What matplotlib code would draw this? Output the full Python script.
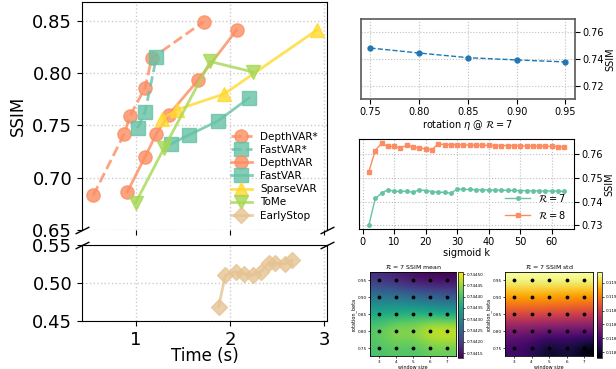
import numpy as np
import matplotlib
matplotlib.use("Agg")
import matplotlib.pyplot as plt

# ---- main panel: SSIM vs time ----
depth_star_t = [0.55, 0.88, 0.94, 1.10, 1.17, 1.72]
depth_star_s = [0.683, 0.742, 0.759, 0.786, 0.814, 0.849]
fast_star_t = [1.02, 1.10, 1.22]
fast_star_s = [0.747, 0.763, 0.815]
depth_t = [0.91, 1.10, 1.22, 1.35, 1.66, 2.07]
depth_s = [0.686, 0.720, 0.742, 0.760, 0.793, 0.841]
fast_t = [1.37, 1.57, 1.87, 2.20]
fast_s = [0.732, 0.741, 0.754, 0.776]
sparse_t = [1.28, 1.44, 1.94, 2.92]
sparse_s = [0.756, 0.765, 0.780, 0.841]
tome_t = [1.00, 1.30, 1.79, 2.24]
tome_s = [0.676, 0.728, 0.811, 0.801]
early_t = [1.88, 1.95, 2.06, 2.15, 2.24, 2.33, 2.41, 2.48, 2.58, 2.66]
early_s = [0.469, 0.510, 0.515, 0.512, 0.510, 0.515, 0.526, 0.526, 0.525, 0.530]

# ---- rotation sweep ----
eta = [0.75, 0.80, 0.85, 0.90, 0.95]
eta_ssim = [0.7482, 0.7445, 0.7410, 0.7393, 0.7378]

# ---- sigmoid sweep ----
k_vals = list(range(2, 66, 2))
r7_ssim = [0.7301, 0.7413, 0.7435, 0.7450, 0.7443, 0.7443, 0.7443, 0.7439,
           0.7450, 0.7446, 0.7442, 0.7439, 0.7439, 0.7435, 0.7453, 0.7451,
           0.7451, 0.7450, 0.7449, 0.7449, 0.7448, 0.7448, 0.7447, 0.7447,
           0.7446, 0.7446, 0.7445, 0.7445, 0.7445, 0.7444, 0.7444, 0.7443]
r8_ssim = [0.7526, 0.7614, 0.7644, 0.7631, 0.7631, 0.7625, 0.7636, 0.7629,
           0.7625, 0.7621, 0.7618, 0.7642, 0.7639, 0.7639, 0.7638, 0.7638,
           0.7637, 0.7637, 0.7636, 0.7636, 0.7635, 0.7635, 0.7635, 0.7634,
           0.7634, 0.7633, 0.7633, 0.7632, 0.7632, 0.7631, 0.7630, 0.7630]

# ---- heatmaps (rows: beta 0.75..0.95, cols: window 3..7) ----
win = [3, 4, 5, 6, 7]
beta = [0.75, 0.80, 0.85, 0.90, 0.95]
mean_grid = np.array([
    [0.74440, 0.74441, 0.74440, 0.74442, 0.74442],
    [0.74442, 0.74447, 0.74445, 0.74451, 0.74451],
    [0.74436, 0.74436, 0.74438, 0.74436, 0.74435],
    [0.74428, 0.74428, 0.74426, 0.74425, 0.74424],
    [0.74418, 0.74416, 0.74414, 0.74413, 0.74413],
])
std_grid = np.array([
    [0.11868, 0.11866, 0.11858, 0.11864, 0.11856],
    [0.11876, 0.11875, 0.11874, 0.11873, 0.11874],
    [0.11893, 0.11893, 0.11892, 0.11892, 0.11890],
    [0.11905, 0.11905, 0.11905, 0.11904, 0.11904],
    [0.11918, 0.11918, 0.11918, 0.11918, 0.11918],
])

c_salmon = "#fc8d62"
c_teal = "#66c2a5"
c_yellow = "#ffd92f"
c_green = "#a6d854"
c_tan = "#e5c494"

fig = plt.figure(figsize=(6.16, 3.69), dpi=100)

ax_top = fig.add_axes([0.133, 0.377, 0.398, 0.618])
ax_bot = fig.add_axes([0.133, 0.130, 0.398, 0.206], sharex=ax_top)

kw = dict(alpha=0.8, lw=2)
ax_top.plot(depth_star_t, depth_star_s, "o--", color=c_salmon, ms=9.5, label="DepthVAR*", **kw)
ax_top.plot(fast_star_t, fast_star_s, "s--", color=c_teal, ms=9.5, label="FastVAR*", **kw)
ax_top.plot(depth_t, depth_s, "o-", color=c_salmon, ms=9.5, label="DepthVAR", **kw)
ax_top.plot(fast_t, fast_s, "s-", color=c_teal, ms=9.5, label="FastVAR", **kw)
ax_top.plot(sparse_t, sparse_s, "^-", color=c_yellow, ms=10, label="SparseVAR", **kw)
ax_top.plot(tome_t, tome_s, "v-", color=c_green, ms=10, label="ToMe", **kw)
ax_top.plot(early_t, early_s, "D-", color=c_tan, ms=8, label="EarlyStop", **kw)
ax_bot.plot(early_t, early_s, "D-", color=c_tan, ms=8, **kw)

ax_top.set_xlim(0.43, 3.03)
ax_top.set_ylim(0.65, 0.868)
ax_bot.set_ylim(0.45, 0.55)
ax_top.set_yticks([0.65, 0.70, 0.75, 0.80, 0.85])
ax_bot.set_yticks([0.45, 0.50, 0.55])
ax_bot.set_xticks([1, 2, 3])

for a in (ax_top, ax_bot):
    a.grid(True, ls=":", color="0.8", lw=1)
    a.tick_params(labelsize=13)
ax_top.spines["bottom"].set_visible(False)
ax_top.tick_params(labelbottom=False)

d = 0.5
mk = dict(marker=[(-1, -d), (1, d)], markersize=10, linestyle="none",
          color="k", mec="k", mew=1, clip_on=False)
ax_top.plot([0, 1], [0, 0], transform=ax_top.transAxes, **mk)
ax_bot.plot([0, 1], [1, 1], transform=ax_bot.transAxes, **mk)

ax_top.set_ylabel("SSIM", fontsize=12)
ax_bot.set_xlabel("Time (s)", fontsize=12, labelpad=-1)
ax_top.legend(loc="lower right", fontsize=7.5, frameon=False, labelspacing=0.3)

# ---- rotation panel ----
ax_r = fig.add_axes([0.5856, 0.7317, 0.348, 0.2168])
ax_r.plot(eta, eta_ssim, "o--", color="#1f77b4", ms=3.5, lw=1)
ax_r.set_ylim(0.71, 0.77)
ax_r.set_yticks([0.72, 0.74, 0.76])
ax_r.set_xticks(eta)
ax_r.yaxis.tick_right()
ax_r.yaxis.set_label_position("right")
ax_r.set_ylabel("SSIM", fontsize=7, labelpad=1)
ax_r.set_xlabel(r"rotation $\eta$ @ $\mathcal{R}=7$", fontsize=7, labelpad=1)
ax_r.tick_params(labelsize=7, pad=2)
ax_r.grid(True, ls=":", color="0.75", lw=0.8)
for s in ax_r.spines.values():
    s.set_color("0.35")
    s.set_linewidth(1.2)

# ---- sigmoid panel ----
ax_k = fig.add_axes([0.583, 0.3786, 0.349, 0.2439])
ax_k.plot(k_vals, r7_ssim, "o-", color=c_teal, ms=2.5, lw=1, label=r"$\mathcal{R}=7$")
ax_k.plot(k_vals, r8_ssim, "s-", color=c_salmon, ms=2.5, lw=1, label=r"$\mathcal{R}=8$")
ax_k.set_yticks([0.73, 0.74, 0.75, 0.76])
ax_k.yaxis.tick_right()
ax_k.yaxis.set_label_position("right")
ax_k.set_ylabel("SSIM", fontsize=7, labelpad=1)
ax_k.set_xlabel("sigmoid k", fontsize=7, labelpad=1)
ax_k.tick_params(labelsize=7, pad=2)
ax_k.grid(True, ls=":", color="0.75", lw=0.8)
ax_k.legend(loc="lower right", fontsize=7, frameon=False, handlelength=2.5)

# ---- heatmaps ----
ext = [2.5, 7.5, 0.725, 0.975]
wx, by = np.meshgrid(win, beta)


def heatmap(rect, crect, grid, cmap, title):
    ax = fig.add_axes(rect)
    im = ax.imshow(grid, origin="lower", extent=ext, aspect="auto",
                   interpolation="bicubic", cmap=cmap)
    ax.scatter(wx.ravel(), by.ravel(), s=3, color="k", zorder=3)
    ax.set_xticks(win)
    ax.set_yticks(beta)
    ax.set_yticklabels([f"{b:.2f}" for b in beta])
    ax.tick_params(labelsize=3, length=1.5, pad=1, width=0.5)
    ax.set_xlabel("window size", fontsize=3.5, labelpad=1)
    ax.set_ylabel("rotation_beta", fontsize=3.5, labelpad=1)
    ax.set_title(title, fontsize=4.5, pad=2)
    for s in ax.spines.values():
        s.set_linewidth(0.6)
    cax = fig.add_axes(crect)
    cb = fig.colorbar(im, cax=cax, format="%.5f")
    cb.ax.tick_params(labelsize=3, length=1.5, pad=1, width=0.5)
    cb.outline.set_linewidth(0.5)


heatmap([0.601, 0.034, 0.139, 0.229], [0.744, 0.031, 0.008, 0.232],
        mean_grid, "viridis", r"$\mathcal{R}$ = 7 SSIM mean")
heatmap([0.820, 0.034, 0.143, 0.229], [0.969, 0.031, 0.008, 0.232],
        std_grid, "inferno", r"$\mathcal{R}$ = 7 SSIM std")

fig.savefig("out.png", dpi=100)
